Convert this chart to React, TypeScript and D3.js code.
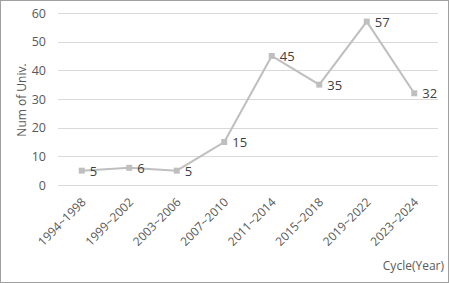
import React, { useRef, useEffect } from 'react'
import * as d3 from 'd3'

const cycles = ['1994~1998', '1999~2002', '2003~2006', '2007~2010', '2011~2014', '2015~2018', '2019~2022', '2023~2024']
const univCounts = [5, 6, 5, 15, 45, 35, 57, 32]
const yTicks = [0, 10, 20, 30, 40, 50, 60]

export default function App() {
    const chartRef = useRef<SVGSVGElement>(null)
    const width = 449
    const height = 283
    const margin = { top: 13, right: 11, bottom: 98, left: 58 }

    useEffect(() => {
        const svg = d3.select(chartRef.current)
        svg.selectAll('*').remove()

        const font = "'Open Sans', sans-serif"

        // outer frame
        svg.append('rect')
            .attr('x', 0.5).attr('y', 0.5)
            .attr('width', width - 1).attr('height', height - 1)
            .attr('fill', '#fff').attr('stroke', '#a0a0a0')

        const x = d3.scaleBand()
            .domain(cycles)
            .range([margin.left, width - margin.right])

        const y = d3.scaleLinear()
            .domain([0, 60])
            .range([height - margin.bottom, margin.top])

        // gridlines
        svg.append('g')
            .selectAll('line')
            .data(yTicks)
            .join('line')
            .attr('x1', margin.left)
            .attr('x2', width - margin.right)
            .attr('y1', (d) => Math.round(y(d)) + 0.5)
            .attr('y2', (d) => Math.round(y(d)) + 0.5)
            .attr('stroke', '#d9d9d9')
            .attr('stroke-width', 1)

        // y axis labels
        const yAxis = svg.append('g')
            .attr('transform', 'translate(' + margin.left + ',0)')
            .call(d3.axisLeft(y).tickValues(yTicks).tickSize(0).tickPadding(12))
        yAxis.select('.domain').remove()
        yAxis.selectAll('text')
            .attr('font-family', font)
            .attr('font-size', 12.5)
            .attr('fill', '#595959')

        // x axis labels
        const xAxis = svg.append('g')
            .attr('transform', 'translate(0,' + (height - margin.bottom) + ')')
            .call(d3.axisBottom(x).tickSize(0).tickPadding(0))
        xAxis.select('.domain').remove()
        xAxis.selectAll('text')
            .attr('font-family', font)
            .attr('font-size', 12)
            .attr('fill', '#595959')
            .attr('text-anchor', 'end')
            .attr('dy', '0.35em')
            .attr('transform', 'translate(2,15) rotate(-45)')

        const cx = (d: string) => (x(d) as number) + x.bandwidth() / 2

        // line
        const line = d3.line<number>()
            .x((d, i) => cx(cycles[i]))
            .y((d) => y(d))

        svg.append('path')
            .datum(univCounts)
            .attr('d', line)
            .attr('fill', 'none')
            .attr('stroke', '#bfbfbf')
            .attr('stroke-width', 2)

        // markers
        svg.append('g')
            .selectAll('rect')
            .data(univCounts)
            .join('rect')
            .attr('x', (d, i) => cx(cycles[i]) - 3)
            .attr('y', (d) => y(d) - 3)
            .attr('width', 6)
            .attr('height', 6)
            .attr('fill', '#bfbfbf')

        // data labels
        svg.append('g')
            .selectAll('text')
            .data(univCounts)
            .join('text')
            .attr('x', (d, i) => cx(cycles[i]) + 8)
            .attr('y', (d) => y(d) + 5)
            .attr('font-family', font)
            .attr('font-size', 13)
            .attr('fill', '#404040')
            .text((d) => d)

        // axis titles
        svg.append('text')
            .attr('transform', 'translate(26,' + (margin.top + 87) + ') rotate(-90)')
            .attr('text-anchor', 'middle')
            .attr('font-family', font)
            .attr('font-size', 12)
            .attr('fill', '#595959')
            .text('Num of Univ.')

        svg.append('text')
            .attr('x', width - 5)
            .attr('y', 270)
            .attr('text-anchor', 'end')
            .attr('font-family', font)
            .attr('font-size', 12)
            .attr('fill', '#595959')
            .text('Cycle(Year)')
    }, [])

    return (
        <svg
            ref={chartRef}
            width={width}
            height={height}
            style={{ position: 'absolute', left: 0, top: 0, display: 'block' }}
        ></svg>
    )
}
